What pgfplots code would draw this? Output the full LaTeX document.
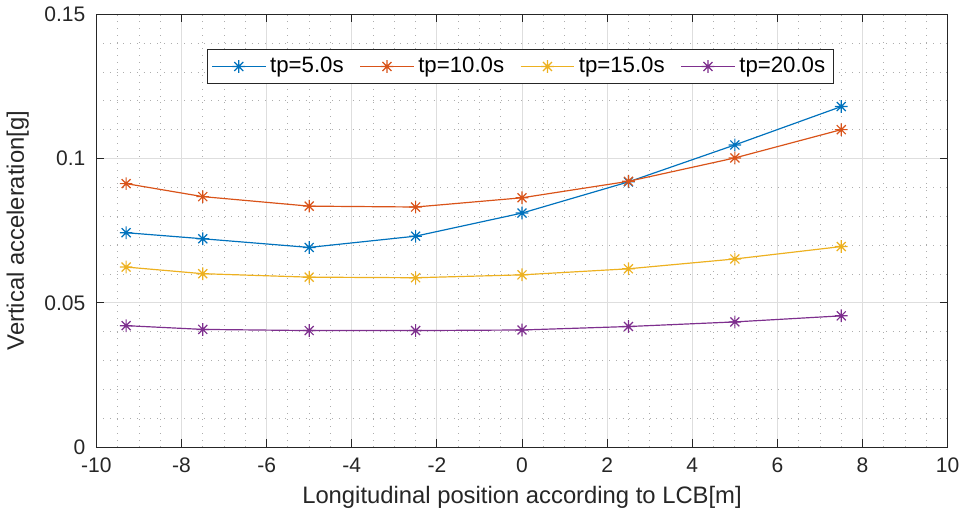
\documentclass[border=0pt]{standalone}
\usepackage{fontspec}
\setmainfont{Liberation Sans}
\usepackage{pgfplots}
\pgfplotsset{compat=1.18}

\definecolor{mblue}{rgb}{0,0.447,0.741}
\definecolor{morange}{rgb}{0.85,0.325,0.098}
\definecolor{myellow}{rgb}{0.929,0.694,0.125}
\definecolor{mpurple}{rgb}{0.494,0.184,0.556}
\definecolor{axgray}{rgb}{0.15,0.15,0.15}

% matlab style '*' marker: plus and cross together
\pgfdeclareplotmark{mstar}{%
  \pgfpathmoveto{\pgfqpoint{-\pgfplotmarksize}{0pt}}\pgfpathlineto{\pgfqpoint{\pgfplotmarksize}{0pt}}%
  \pgfpathmoveto{\pgfqpoint{0pt}{-\pgfplotmarksize}}\pgfpathlineto{\pgfqpoint{0pt}{\pgfplotmarksize}}%
  \pgfpathmoveto{\pgfqpoint{-0.707\pgfplotmarksize}{-0.707\pgfplotmarksize}}\pgfpathlineto{\pgfqpoint{0.707\pgfplotmarksize}{0.707\pgfplotmarksize}}%
  \pgfpathmoveto{\pgfqpoint{-0.707\pgfplotmarksize}{0.707\pgfplotmarksize}}\pgfpathlineto{\pgfqpoint{0.707\pgfplotmarksize}{-0.707\pgfplotmarksize}}%
  \pgfusepathqstroke}

\begin{document}
\begin{tikzpicture}
\begin{axis}[
    scale only axis,
    width=429pt,
    height=218.2pt,
    xmin=-10, xmax=10,
    ymin=0, ymax=0.15,
    xtick={-10,-8,...,10},
    xticklabels={-10,-8,-6,-4,-2,0,2,4,6,8,10},
    ytick={0,0.05,0.1,0.15},
    yticklabels={0,0.05,0.1,0.15},
    minor x tick num=3,
    minor y tick num=4,
    grid=both,
    major grid style={draw=black!13, line width=0.5pt},
    minor grid style={draw=black!32, line width=0.4pt, dash pattern=on 0.4pt off 3pt},
    tick align=inside,
    major tick length=4pt,
    minor tick length=0pt,
    axis line style={draw=axgray, line width=0.5pt},
    tick style={draw=axgray, line width=0.5pt},
    ticklabel style={font=\fontsize{10.6}{12}\selectfont, text=axgray},
    xticklabel style={yshift=-2pt},
    yticklabel style={xshift=-2pt},
    xlabel={Longitudinal position according to LCB[m]},
    ylabel={Vertical acceleration[g]},
    ylabel style={yshift=1pt},
    label style={font=\fontsize{12}{14}\selectfont, text=axgray},
    legend style={at={(0.498,0.92)}, anchor=north, legend columns=4,
        draw=axgray, line width=0.5pt, font=\fontsize{11.2}{12.5}\selectfont, text=black,
        inner xsep=2pt, inner ysep=2pt,
        /tikz/every even column/.append style={column sep=6pt}},
    legend image code/.code={%
        \draw[mark repeat=2, mark phase=2] plot coordinates {(0pt,0pt) (13.5pt,0pt) (27pt,0pt)};},
    every axis plot/.append style={line width=0.6pt, mark=mstar, mark size=3.2pt},
]
\addplot[mblue] coordinates {
    (-9.3,0.0743) (-7.5,0.0722) (-5,0.0692) (-2.5,0.0731) (0,0.0811) (2.5,0.0919) (5,0.1047) (7.5,0.1180)
};
\addlegendentry{tp=5.0s}
\addplot[morange] coordinates {
    (-9.3,0.0913) (-7.5,0.0868) (-5,0.0835) (-2.5,0.0832) (0,0.0864) (2.5,0.0921) (5,0.1002) (7.5,0.1100)
};
\addlegendentry{tp=10.0s}
\addplot[myellow] coordinates {
    (-9.3,0.0624) (-7.5,0.0601) (-5,0.0589) (-2.5,0.0587) (0,0.0597) (2.5,0.0618) (5,0.0652) (7.5,0.0695)
};
\addlegendentry{tp=15.0s}
\addplot[mpurple] coordinates {
    (-9.3,0.0421) (-7.5,0.0408) (-5,0.0404) (-2.5,0.0404) (0,0.0406) (2.5,0.0418) (5,0.0434) (7.5,0.0455)
};
\addlegendentry{tp=20.0s}
\end{axis}
\path[use as bounding box] (-46.5pt,-35.65pt) rectangle (436.5pt,225.35pt);
\end{tikzpicture}
\end{document}
